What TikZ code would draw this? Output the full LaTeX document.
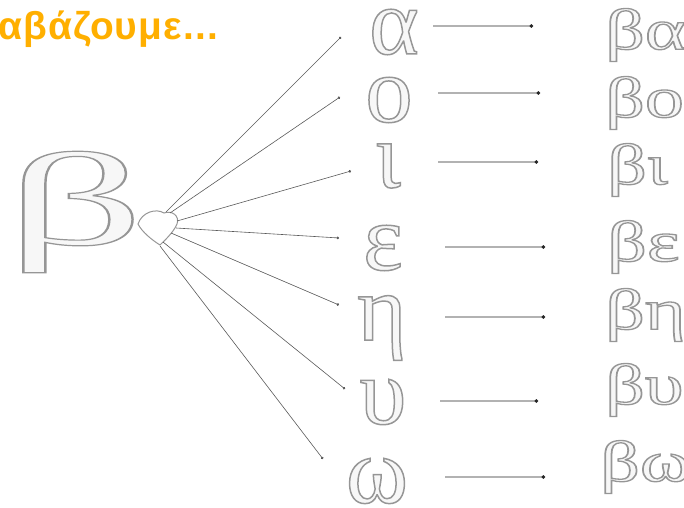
\documentclass[tikz,border=0pt]{standalone}
\usepackage{fontspec}
\setmainfont{Liberation Serif}
\newfontfamily\titlefont[LetterSpace=3,UprightFont=* Bold]{Liberation Sans}
\usetikzlibrary{arrows.meta}
\definecolor{outl}{RGB}{150,150,150}
\definecolor{titleorange}{RGB}{255,175,0}
\newcommand{\outlined}[2][1.5]{\textcolor{outl}{\special{pdf:literal direct 2 Tr #1 w 0.97 g}#2\special{pdf:literal direct 0 Tr}}}
\tikzset{
  letter/.style={inner sep=0pt, anchor=center, font=\fontsize{95}{95}\selectfont},
  word/.style={inner sep=0pt, anchor=west, font=\fontsize{58}{58}\selectfont},
  fan/.style={draw=black!65, line width=0.6bp, -{Circle[length=2.6bp]}},
  link/.style={draw=black!30, line width=2bp, -{Circle[length=3.2bp,color=black!85]}},
  heartline/.style={draw=outl, line width=1bp}
}
\begin{document}
\begin{tikzpicture}[x=1bp,y=-1bp]
\useasboundingbox (0,0) rectangle (684,508);
% heart
\draw[heartline] (138,224) .. controls (142,212) and (156,208) .. (164,213)
  .. controls (172,210) and (180,216) .. (177,224)
  .. controls (173,233) and (165,240) .. (160,245)
  .. controls (152,240) and (142,232) .. (138,224) -- cycle;
\coordinate (h1) at (166,212);
\coordinate (h2) at (170,213);
\coordinate (h3) at (177,221);
\coordinate (h4) at (176,228);
\coordinate (h5) at (171,233);
\coordinate (h6) at (163,242);
\coordinate (h7) at (160,246);
% fan end points
\coordinate (ea) at (341,37);
\coordinate (eo) at (340,97);
\coordinate (ei) at (351,171);
\coordinate (ee) at (339,238);
\coordinate (eh) at (339,305);
\coordinate (eu) at (345,389);
\coordinate (ew) at (323,459);
\draw[fan] (h1) -- (ea);
\draw[fan] (h2) -- (eo);
\draw[fan] (h3) -- (ei);
\draw[fan] (h4) -- (ee);
\draw[fan] (h5) -- (eh);
\draw[fan] (h6) -- (eu);
\draw[fan] (h7) -- (ew);
% links
\coordinate (sa) at (433,26);  \coordinate (ta) at (533,26);
\coordinate (so) at (438,93);  \coordinate (to) at (540,93);
\coordinate (si) at (438,162); \coordinate (ti) at (538,162);
\coordinate (se) at (445,247); \coordinate (te) at (545,247);
\coordinate (sh) at (445,317); \coordinate (th) at (545,317);
\coordinate (su) at (440,401); \coordinate (tu) at (538,401);
\coordinate (sw) at (445,477); \coordinate (tw) at (545,477);
\draw[link] (sa) -- (ta);
\draw[link] (so) -- (to);
\draw[link] (si) -- (ti);
\draw[link] (se) -- (te);
\draw[link] (sh) -- (th);
\draw[link] (su) -- (tu);
\draw[link] (sw) -- (tw);
% title
\node[anchor=base west, inner sep=0pt, text=titleorange, font=\titlefont\fontsize{39}{39}\selectfont] (title) at (-2,40) {αβάζουμε...};
% big beta
\node[inner sep=0pt] (bigbeta) at (75,212) {\scalebox{2.05}[1]{\fontsize{133}{133}\selectfont\outlined[1.2]{β}}};
% letters
\node[letter] (la) at (394,32) {\outlined{α}};
\node[letter] (lo) at (389,100) {\outlined{ο}};
\node[letter] (li) at (388,166) {\outlined{ι}};
\node[letter] (le) at (383,248) {\outlined{ε}};
\node[letter] (lh) at (382,328) {\outlined{η}};
\node[letter] (lu) at (383,402) {\outlined{υ}};
\node[letter] (lw) at (377,481) {\outlined{ω}};
% words
\node[word] (wa) at (605,35) {\scalebox{1.35}[1]{\outlined[1.3]{βα}}};
\node[word] (wo) at (605,103) {\scalebox{1.35}[1]{\outlined[1.3]{βο}}};
\node[word] (wi) at (607,170) {\scalebox{1.35}[1]{\outlined[1.3]{βι}}};
\node[word] (we) at (607,247) {\scalebox{1.35}[1]{\outlined[1.3]{βε}}};
\node[word] (wh) at (605,315) {\scalebox{1.35}[1]{\outlined[1.3]{βη}}};
\node[word] (wu) at (605,390) {\scalebox{1.35}[1]{\outlined[1.3]{βυ}}};
\node[word] (ww) at (600,467) {\scalebox{1.35}[1]{\outlined[1.3]{βω}}};
\end{tikzpicture}
\end{document}
